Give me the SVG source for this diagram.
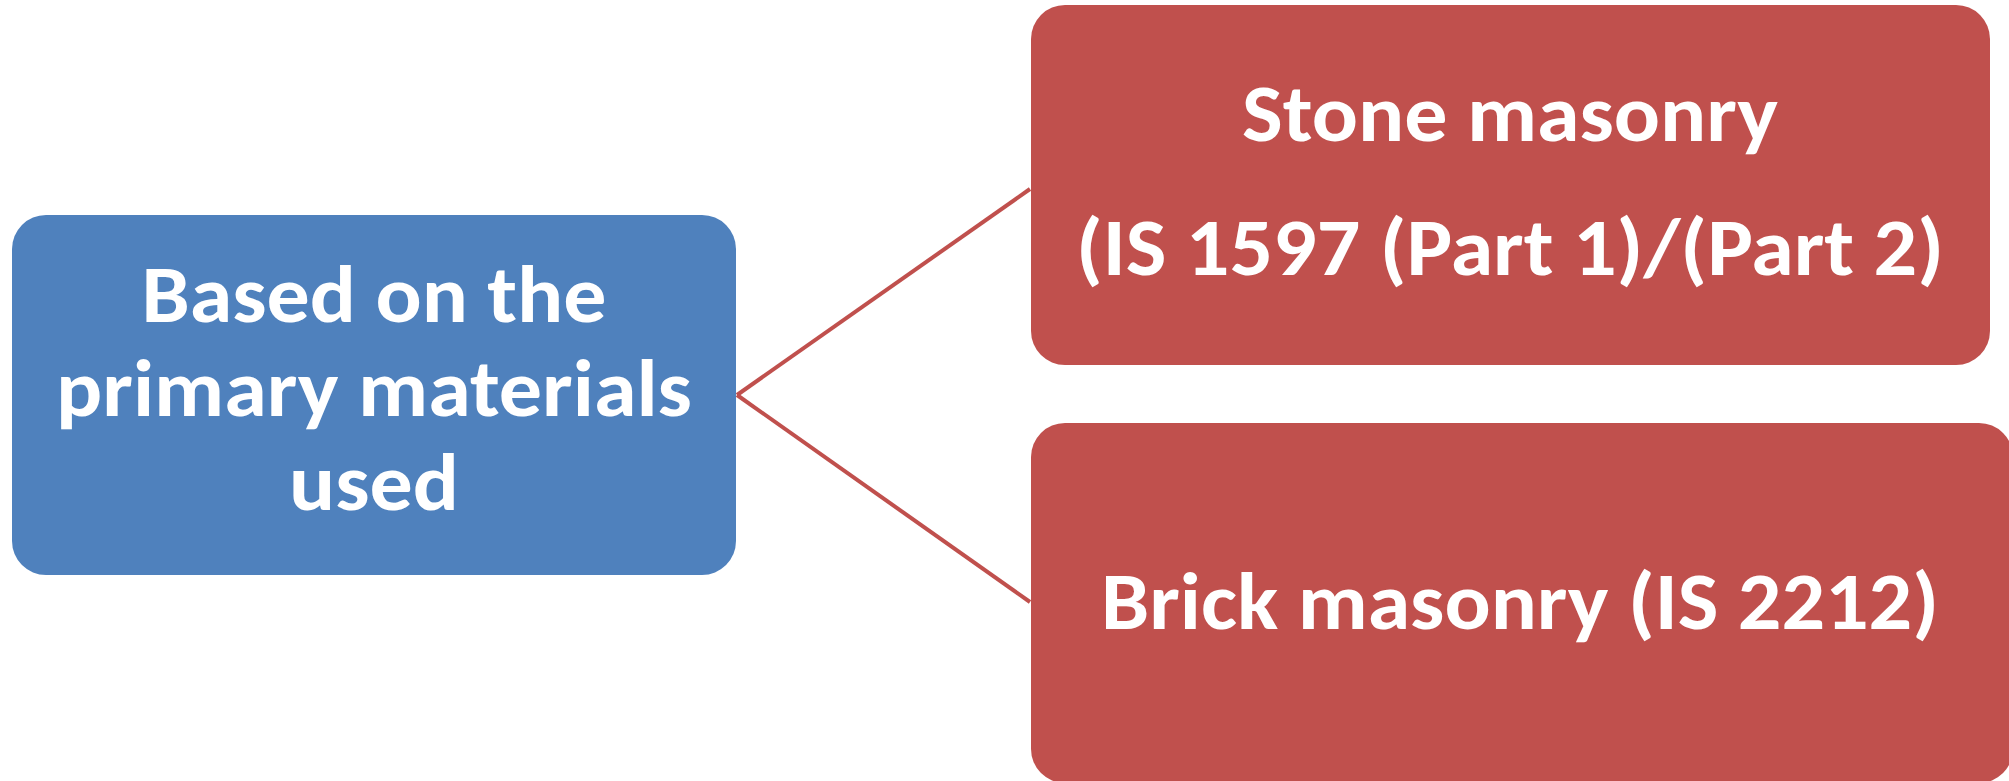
<svg xmlns="http://www.w3.org/2000/svg" width="2009" height="781" viewBox="0 0 2009 781">
  <style>
    .blue { fill: #4F81BD; }
    .red { fill: #C0504D; }
    .lbl { fill: #FFFFFF; font-family: Carlito, Lato, "Open Sans", sans-serif; font-weight: bold; font-size: 80px; text-anchor: middle; }
    .conn { stroke: #C0504D; stroke-width: 4; fill: none; }
  </style>
  <rect width="2009" height="781" fill="#FFFFFF"/>
  <g id="connectors">
    <path class="conn" d="M737,395 L1030,189"/>
    <path class="conn" d="M737,395 L1030,602"/>
  </g>
  <g id="node-root">
    <rect class="blue" x="12" y="215" width="724" height="360" rx="34" ry="34"/>
    <text class="lbl" x="374" y="322" textLength="465" lengthAdjust="spacingAndGlyphs">Based on the</text>
    <text class="lbl" x="374" y="416" textLength="636" lengthAdjust="spacingAndGlyphs">primary materials</text>
    <text class="lbl" x="374" y="510" textLength="170" lengthAdjust="spacingAndGlyphs">used</text>
  </g>
  <g id="node-stone">
    <rect class="red" x="1031" y="5" width="959" height="360" rx="34" ry="34"/>
    <text class="lbl" x="1510" y="141" textLength="536" lengthAdjust="spacingAndGlyphs">Stone masonry</text>
    <text class="lbl" x="1510" y="275" textLength="868" lengthAdjust="spacingAndGlyphs">(IS 1597 (Part 1)/(Part 2)</text>
  </g>
  <g id="node-brick">
    <rect class="red" x="1031" y="423" width="982" height="360" rx="34" ry="34"/>
    <text class="lbl" x="1520" y="629" textLength="838" lengthAdjust="spacingAndGlyphs">Brick masonry (IS 2212)</text>
  </g>
</svg>
